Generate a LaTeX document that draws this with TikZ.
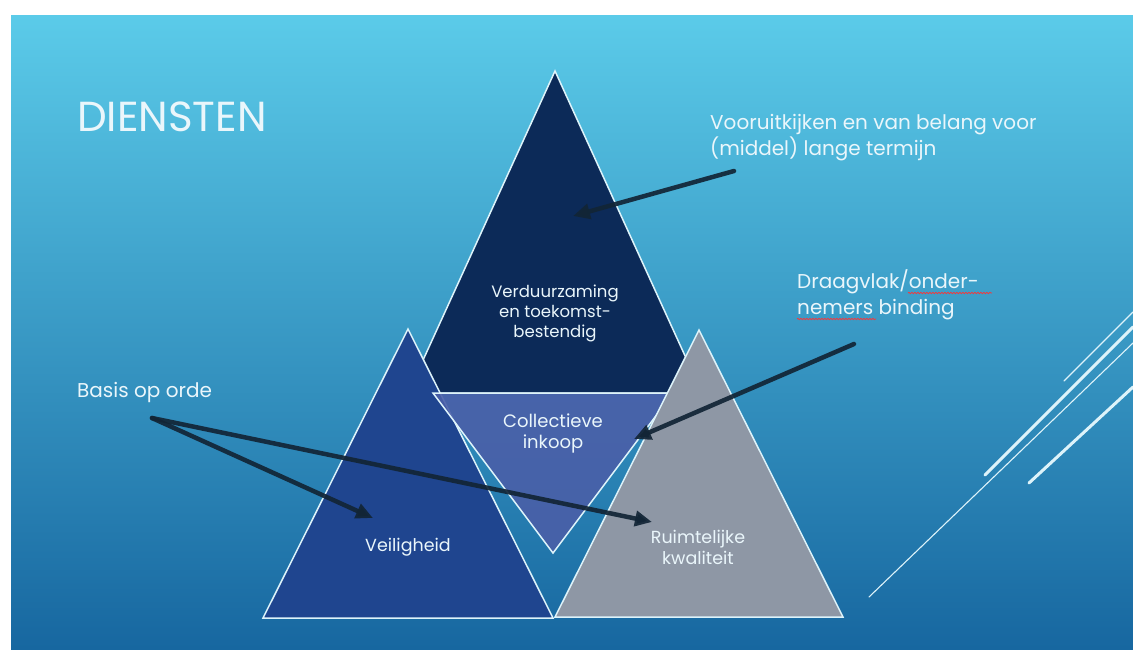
\documentclass[tikz,border=0pt]{standalone}
\usepackage{fontspec}
\setmainfont{Poppins}
\usetikzlibrary{arrows.meta,decorations.pathmorphing}
\definecolor{bgtop}{HTML}{5BCBE9}
\definecolor{bgbot}{HTML}{1767A0}
\definecolor{navyc}{HTML}{0C2A58}
\definecolor{bluec}{HTML}{1F458F}
\definecolor{lavc}{HTML}{4A5FA8}
\definecolor{greyc}{HTML}{8E97A5}
\definecolor{arrowc}{HTML}{122536}
\definecolor{edgec}{HTML}{DDF3FA}
\definecolor{txtc}{HTML}{EAF6FB}
\begin{document}
\begin{tikzpicture}[x=1pt,y=-1pt,
  tri/.style={draw=edgec, line width=1.5pt, line join=miter},
  lbl/.style={text=txtc, font=\fontsize{16.5}{20}\selectfont, align=center, inner sep=0pt},
  note/.style={text=txtc, font=\fontsize{20}{26}\selectfont, align=left, inner sep=0pt, anchor=west},
  pointer/.style={draw=arrowc, draw opacity=0.92, line width=4.5pt, line cap=round, -{Triangle[length=17pt,width=15pt]}},
  decothin/.style={draw=edgec, line width=1.1pt, line cap=round},
  decothick/.style={draw=edgec, line width=3pt, line cap=round},
  squiggle/.style={draw=red!80!white, line width=0.7pt, decorate, decoration={snake, segment length=3pt, amplitude=0.7pt}}]
\useasboundingbox (0,0) rectangle (1133,649);
\fill[white] (0,0) rectangle (1133,649);
\shade[top color=bgtop, bottom color=bgbot] (11,15) rectangle (1133,649);

% decorative lines
\coordinate (d1a) at (1064,381); \coordinate (d1b) at (1133,312);
\coordinate (d2a) at (985,475);  \coordinate (d2b) at (1133,327);
\coordinate (d3a) at (869,597);  \coordinate (d3b) at (1133,343);
\coordinate (d4a) at (1029,483); \coordinate (d4b) at (1133,387);
\draw[decothin] (d1a) -- (d1b);
\draw[decothick] (d2a) -- (d2b);
\draw[decothin] (d3a) -- (d3b);
\draw[decothick] (d4a) -- (d4b);

% triangles
\coordinate (nA) at (555,71);  \coordinate (nL) at (408,393); \coordinate (nR) at (702,393);
\coordinate (bA) at (408,329); \coordinate (bL) at (263,618); \coordinate (bR) at (553,618);
\coordinate (iL) at (433,393); \coordinate (iR) at (673,393); \coordinate (iB) at (553,553);
\coordinate (gA) at (699,330); \coordinate (gL) at (555,617); \coordinate (gR) at (843,617);
\filldraw[tri, fill=navyc] (nA) -- (nL) -- (nR) -- cycle;
\filldraw[tri, fill=bluec] (bA) -- (bL) -- (bR) -- cycle;
\filldraw[tri, fill=lavc, fill opacity=0.9] (iL) -- (iR) -- (iB) -- cycle;
\filldraw[tri, fill=greyc] (gA) -- (gL) -- (gR) -- cycle;

% labels in triangles
\node[lbl] (verd) at (555,313) {Verduurzaming\\en toekomst-\\bestendig};
\node[lbl, font=\fontsize{18}{21}\selectfont] (coll) at (553,433) {Collectieve\\inkoop};
\node[lbl, font=\fontsize{17.5}{21}\selectfont] (veil) at (408,547) {Veiligheid};
\node[lbl, font=\fontsize{17.5}{21}\selectfont] (ruim) at (698,547) {Ruimtelijke\\kwaliteit};

% title and notes
\node[text=txtc, font=\fontsize{42}{42}\selectfont, inner sep=0pt, anchor=west] (title) at (77,117) {DIENSTEN};
\node[note] (voor) at (710,138) {Vooruitkijken en van belang voor\\(middel) lange termijn};
\node[note] (draag) at (797,295) {Draagvlak/onder-\\nemers binding};
\node[note] (basis) at (77,392) {Basis op orde};

% spellcheck marks
\coordinate (s1a) at (908,293); \coordinate (s1b) at (992,293);
\coordinate (s2a) at (797,319); \coordinate (s2b) at (876,319);
\draw[squiggle] (s1a) -- (s1b);
\draw[squiggle] (s2a) -- (s2b);

% arrows
\coordinate (a1s) at (734,171); \coordinate (a1t) at (573,216);
\coordinate (a2s) at (854,344); \coordinate (a2t) at (634,439);
\coordinate (a3s) at (152,418); \coordinate (a3t) at (373,518);
\coordinate (a4t) at (652,522);
\draw[pointer] (a1s) -- (a1t);
\draw[pointer] (a2s) -- (a2t);
\draw[pointer] (a3s) -- (a3t);
\draw[pointer] (a3s) -- (a4t);
\end{tikzpicture}
\end{document}
